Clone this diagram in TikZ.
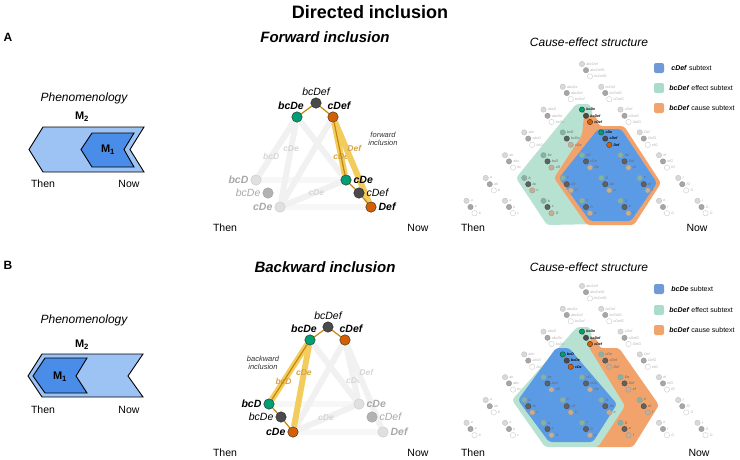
\documentclass[tikz,border=0pt]{standalone}
\usepackage{fontspec}
\setmainfont{Liberation Sans}
\usepackage{tikz}
\usetikzlibrary{positioning,backgrounds}

\definecolor{grnode}{HTML}{009E73}
\definecolor{drknode}{HTML}{4A4A4A}
\definecolor{orgnode}{HTML}{D55E00}
\definecolor{goldline}{HTML}{C8860A}
\definecolor{yelband}{HTML}{F2CD5E}
\definecolor{netgray}{HTML}{F1F1F1}
\definecolor{phlight}{HTML}{9DC3F4}
\definecolor{phdark}{HTML}{4A8DE8}
\definecolor{subblue}{HTML}{5B9BE6}
\definecolor{subteal}{HTML}{B7E1D1}
\definecolor{suborange}{HTML}{F2A36C}
\definecolor{lgblue}{HTML}{7199D6}
\definecolor{lgteal}{HTML}{A9DCCB}
\definecolor{lgorange}{HTML}{F2A46E}
\definecolor{tealnode}{HTML}{7DB7A3}
\definecolor{tannode}{HTML}{C9AD90}
\definecolor{fadetext}{HTML}{A8A8A8}

% clusters that sit inside a subtext, and the highlighted ones
\newcommand{\markin}[1]{\expandafter\def\csname in-#1\endcsname{}}
\newcommand{\markspecial}[1]{\expandafter\def\csname sp#1\endcsname{}}
\markin{2-1}\markin{3-1}\markin{3-2}
\markin{4-1}\markin{4-2}\markin{4-3}
\markin{5-1}\markin{5-2}\markin{5-3}\markin{5-4}
\markin{6-2}\markin{6-3}\markin{6-4}
\markspecial{A-2-1}\markspecial{A-3-2}
\markspecial{B-2-1}\markspecial{B-3-1}

\tikzset{
  pnode/.style={circle,draw=black!85,line width=0.4pt,minimum size=10.5pt,inner sep=0pt},
  causenode/.style={pnode,fill=grnode},
  mechnode/.style={pnode,fill=drknode},
  effnode/.style={pnode,fill=orgnode},
  fadeone/.style={pnode,fill=black!12,draw=black!22},
  fadetwo/.style={pnode,fill=black!30,draw=black!38},
  net/.style={draw=netgray,line width=6pt},
  flatnet/.style={draw=black!3,line width=6pt},
  band/.style={draw=yelband,line width=6pt},
  goldlink/.style={draw=goldline,line width=1.2pt},
  nlbl/.style={font=\fontsize{10.5}{12}\selectfont\bfseries\itshape,inner sep=2pt},
  ilbl/.style={font=\fontsize{10.5}{12}\selectfont\itshape,inner sep=2pt},
  netlbl/.style={font=\fontsize{8.5}{9}\selectfont\bfseries\itshape,text=black!16,inner sep=0pt},
  bandlbl/.style={font=\fontsize{8.5}{9}\selectfont\bfseries\itshape,text=goldline!75,inner sep=0pt},
  smalllbl/.style={font=\fontsize{7.5}{8.5}\selectfont\itshape,align=center,text=black!80},
  gnode/.style={circle,minimum size=5.4pt,inner sep=0pt,line width=0.35pt},
  g1-gray/.style={gnode,fill=black!15,draw=black!25},
  g2-gray/.style={gnode,fill=black!35,draw=black!42},
  g3-gray/.style={gnode,fill=white,draw=black!22},
  g1-in/.style={gnode,fill=tealnode,draw=black!40},
  g2-in/.style={gnode,fill=black!62,draw=black!72},
  g3-in/.style={gnode,fill=tannode,draw=black!40},
  g1-sp/.style={gnode,fill=grnode,draw=black!80},
  g2-sp/.style={gnode,fill=drknode,draw=black!80},
  g3-sp/.style={gnode,fill=orgnode,draw=black!80},
  gl-gray/.style={font=\fontsize{3.6}{4}\selectfont\itshape,text=black!30,inner sep=0.5pt,anchor=west},
  gl-in/.style={font=\fontsize{3.6}{4}\selectfont\itshape,text=black!60,inner sep=0.5pt,anchor=west},
  gl-sp/.style={font=\fontsize{3.6}{4}\selectfont\bfseries\itshape,text=black,inner sep=0.5pt,anchor=west},
  legsq/.style={rectangle,rounded corners=2pt,minimum size=10pt,inner sep=0pt},
  legtxt/.style={font=\fontsize{7}{8.5}\selectfont,inner sep=0pt},
  chev/.style={draw=black,line width=0.9pt,line join=miter},
  mlbl/.style={font=\fontsize{11}{12}\selectfont\bfseries},
  hdr/.style={font=\fontsize{15}{17}\selectfont\bfseries\itshape},
  sub/.style={font=\fontsize{12}{14}\selectfont\itshape},
  axis/.style={font=\fontsize{10.5}{12}\selectfont},
}

% cause-effect lattice; #1 = top row y, #2 = panel
\newcommand{\cesgrid}[2]{%
  \foreach \row/\pos/\cpv/\mch/\epv in {
    0/0/abcDef/abcDefG/bcDefG,
    1/0/abcDe/abcDef/bcDef, 1/1/bcDef/bcDefG/cDefG,
    2/0/abcD/abcDe/bcDe, 2/1/bcDe/bcDef/cDef, 2/2/cDef/cDefG/DefG,
    3/0/abc/abcD/bcD, 3/1/bcD/bcDe/cDe, 3/2/cDe/cDef/Def, 3/3/Def/DefG/efG,
    4/0/ab/abc/bc, 4/1/bc/bcD/cD, 4/2/cD/cDe/De, 4/3/De/Def/ef, 4/4/ef/efG/fG,
    5/0/a/ab/b, 5/1/b/bc/c, 5/2/c/cD/D, 5/3/D/De/e, 5/4/e/ef/f, 5/5/f/fG/G,
    6/0/a/a/b, 6/1/a/b/c, 6/2/b/c/D, 6/3/c/D/e, 6/4/D/e/f, 6/5/e/f/G, 6/6/f/G/G}{
    \ifcsname sp#2-\row-\pos\endcsname \def\kind{sp}%
    \else\ifcsname in-\row-\pos\endcsname \def\kind{in}\else \def\kind{gray}\fi\fi
    \node[g1-\kind] (#2-\row-\pos-c) at ({582+(\pos-\row/2)*38.5},{#1+\row*22.8}) {};
    \node[g2-\kind] (#2-\row-\pos-m) at ([shift={(4,6.2)}]#2-\row-\pos-c) {};
    \node[g3-\kind] (#2-\row-\pos-e) at ([shift={(4,6.2)}]#2-\row-\pos-m) {};
    \node[gl-\kind] (#2-\row-\pos-cl) at ([xshift=0.8pt]#2-\row-\pos-c.east) {\cpv};
    \node[gl-\kind] (#2-\row-\pos-ml) at ([xshift=0.8pt]#2-\row-\pos-m.east) {\mch};
    \node[gl-\kind] (#2-\row-\pos-el) at ([xshift=0.8pt]#2-\row-\pos-e.east) {\epv};
    \ifcsname sp#2-\row-\pos\endcsname
      \draw[goldline,line width=0.6pt] (#2-\row-\pos-c) -- (#2-\row-\pos-m) -- (#2-\row-\pos-e);
    \fi
  }%
}

\begin{document}
\begin{tikzpicture}[x=1pt,y=-1pt]
  \useasboundingbox (0,0) rectangle (740,459);

  \node[font=\fontsize{18}{20}\selectfont\bfseries] (title) at (370,12) {Directed inclusion};
  \node[font=\fontsize{12}{14}\selectfont\bfseries] (pa) at (8,37) {A};
  \node[font=\fontsize{12}{14}\selectfont\bfseries] (pb) at (8,265) {B};

  % phenomenology, forward
  \node[sub] (aphen) at (84,98) {Phenomenology};
  \filldraw[chev,fill=phlight] (43,127) -- (144,127) -- (130,149.5) -- (144,172) -- (43,172) -- (29,149.5) -- cycle;
  \filldraw[chev,fill=phdark] (92,133) -- (134,133) -- (124,149.5) -- (134,167) -- (92,167) -- (81,149.5) -- cycle;
  \node[mlbl] (am2) at (82,117) {M\textsubscript{2}};
  \node[mlbl] (am1) at (108,150) {M\textsubscript{1}};
  \node[axis] (athen) at (43,184) {Then};
  \node[axis] (anow) at (129,184) {Now};

  % phenomenology, backward
  \node[sub] (bphen) at (84,320) {Phenomenology};
  \filldraw[chev,fill=phlight] (42,354) -- (143,354) -- (128,376) -- (143,397) -- (42,397) -- (28,376) -- cycle;
  \filldraw[chev,fill=phdark] (45,358) -- (87,358) -- (76,376) -- (87,393) -- (45,393) -- (33,376) -- cycle;
  \node[mlbl] (bm2) at (82,345) {M\textsubscript{2}};
  \node[mlbl] (bm1) at (60,377) {M\textsubscript{1}};
  \node[axis] (bthen) at (43,410) {Then};
  \node[axis] (bnow) at (129,410) {Now};

  % forward inclusion graph
  \node[hdr] (fwdt) at (325,37) {Forward inclusion};
  \node[fadeone,label={[nlbl,text=fadetext]left:bcD}] (aL1) at (256,180) {};
  \node[fadetwo,label={[ilbl,text=fadetext]left:bcDe}] (aL2) at (268,193) {};
  \node[fadeone,label={[nlbl,text=fadetext]left:cDe}] (aL3) at (280,207) {};
  \node[mechnode,label={[ilbl]above:bcDef}] (aT2) at (316,103) {};
  \node[causenode,label={[nlbl,xshift=-6pt]above:bcDe}] (aT1) at (297,117) {};
  \node[effnode,label={[nlbl,xshift=6pt]above:cDef}] (aT3) at (333,117) {};
  \node[causenode,label={[nlbl]right:cDe}] (aR1) at (346,180) {};
  \node[mechnode,label={[ilbl]right:cDef}] (aR2) at (359,193) {};
  \node[effnode,label={[nlbl]right:Def}] (aR3) at (371,207) {};
  \node[smalllbl] (afwd) at (383,139) {forward\\inclusion};
  \begin{scope}[on background layer]
    \draw[flatnet] (aL1) -- (aR1);
    \draw[flatnet] (aL3) -- (aR3);
    \draw[net] (aT1) -- (aR1);
    \draw[net] (aT3) -- (aL3);
    \draw[net] (aT1) -- node[netlbl,pos=0.65]{bcD} (aL1);
    \draw[net] (aT1) -- node[netlbl,pos=0.33]{cDe} (aL3);
    \draw[net] (aL3) -- node[netlbl,pos=0.56]{cDe} (aR1);
    \draw[band] (aT3) -- node[bandlbl,pos=0.65]{cDe} (aR1);
    \draw[band] (aT3) -- node[bandlbl,pos=0.33,xshift=8pt]{Def} (aR3);
    \draw[goldlink] (aT1) -- (aT2) -- (aT3) -- (aR1) -- (aR2) -- (aR3);
  \end{scope}
  \node[axis] (mthen) at (225,228) {Then};
  \node[axis] (mnow) at (418,228) {Now};

  % backward inclusion graph
  \node[hdr] (bwdt) at (325,267) {Backward inclusion};
  \node[mechnode,label={[ilbl]above:bcDef}] (bT2) at (328,327) {};
  \node[causenode,label={[nlbl,xshift=-6pt]above:bcDe}] (bT1) at (310,340) {};
  \node[effnode,label={[nlbl,xshift=6pt]above:cDef}] (bT3) at (345,340) {};
  \node[causenode,label={[nlbl]left:bcD}] (bL1) at (269,404) {};
  \node[mechnode,label={[ilbl]left:bcDe}] (bL2) at (281,417) {};
  \node[effnode,label={[nlbl]left:cDe}] (bL3) at (293,432) {};
  \node[fadeone,label={[nlbl,text=fadetext]right:cDe}] (bR1) at (359,404) {};
  \node[fadetwo,label={[ilbl,text=fadetext]right:cDef}] (bR2) at (372,417) {};
  \node[fadeone,label={[nlbl,text=fadetext]right:Def}] (bR3) at (383,432) {};
  \node[smalllbl] (bbwd) at (263,363) {backward\\inclusion};
  \begin{scope}[on background layer]
    \draw[flatnet] (bL1) -- (bR1);
    \draw[flatnet] (bL3) -- (bR3);
    \draw[net] (bT1) -- (bR1);
    \draw[net] (bT3) -- (bL3);
    \draw[net] (bT3) -- node[netlbl,pos=0.67]{cDe} (bR1);
    \draw[net] (bT3) -- node[netlbl,pos=0.33,xshift=8pt]{Def} (bR3);
    \draw[net] (bL3) -- node[netlbl,pos=0.5]{cDe} (bR1);
    \draw[band] (bT1) -- node[bandlbl,pos=0.67]{bcD} (bL1);
    \draw[band] (bT1) -- node[bandlbl,pos=0.34]{cDe} (bL3);
    \draw[goldlink] (bT3) -- (bT2) -- (bT1) -- (bL1) -- (bL2) -- (bL3);
  \end{scope}
  \node[axis] (nthen) at (225,453) {Then};
  \node[axis] (nnow) at (418,453) {Now};

  % cause-effect structure, forward
  \node[sub] (aces) at (589,42) {Cause-effect structure};
  \fill[subteal,rounded corners=3pt] (576,104) -- (590,104) -- (593,113) -- (588,126) -- (600,140) -- (600,224) -- (547,225) -- (516,178) -- cycle;
  \fill[suborange,rounded corners=3pt] (584,116) -- (596,116) -- (599,126) -- (624,126) -- (661,183) -- (634,225) -- (587,225) -- (554,178) -- (582,135) -- cycle;
  \fill[subblue,rounded corners=3pt] (598,129) -- (621,129) -- (657,183) -- (631,221) -- (590,221) -- (559,178) -- cycle;
  \cesgrid{64}{A}
  \node[legsq,fill=lgblue] (aleg1) at (659,68) {};
  \node[legsq,fill=lgteal] (aleg2) at (659,88) {};
  \node[legsq,fill=lgorange] (aleg3) at (659,108) {};
  \node[legtxt,anchor=west,right=7pt of aleg1] (aleg1t) {\textbf{\textit{cDef}} subtext};
  \node[legtxt,anchor=west,right=5pt of aleg2] (aleg2t) {\textbf{\textit{bcDef}} effect subtext};
  \node[legtxt,anchor=west,right=5pt of aleg3] (aleg3t) {\textbf{\textit{bcDef}} cause subtext};
  \node[axis] (cthen) at (473,228) {Then};
  \node[axis] (cnow) at (697,228) {Now};

  % cause-effect structure, backward
  \node[sub] (bces) at (589,267) {Cause-effect structure};
  \fill[suborange,rounded corners=3pt] (584,338) -- (596,338) -- (600,348) -- (619,348) -- (659,405) -- (633,447) -- (592,447) -- (570,380) -- cycle;
  \fill[subteal,rounded corners=3pt] (577,327) -- (590,327) -- (592,337) -- (588,346) -- (625,406) -- (598,447) -- (545,447) -- (512,400) -- cycle;
  \fill[subblue,rounded corners=3pt] (556,348) -- (569,348) -- (617,404) -- (593,442) -- (549,442) -- (518,400) -- cycle;
  \cesgrid{286}{B}
  \node[legsq,fill=lgblue] (bleg1) at (659,289) {};
  \node[legsq,fill=lgteal] (bleg2) at (659,310) {};
  \node[legsq,fill=lgorange] (bleg3) at (659,330) {};
  \node[legtxt,anchor=west,right=7pt of bleg1] (bleg1t) {\textbf{\textit{bcDe}} subtext};
  \node[legtxt,anchor=west,right=5pt of bleg2] (bleg2t) {\textbf{\textit{bcDef}} effect subtext};
  \node[legtxt,anchor=west,right=5pt of bleg3] (bleg3t) {\textbf{\textit{bcDef}} cause subtext};
  \node[axis] (dthen) at (473,453) {Then};
  \node[axis] (dnow) at (699,453) {Now};
\end{tikzpicture}
\end{document}
